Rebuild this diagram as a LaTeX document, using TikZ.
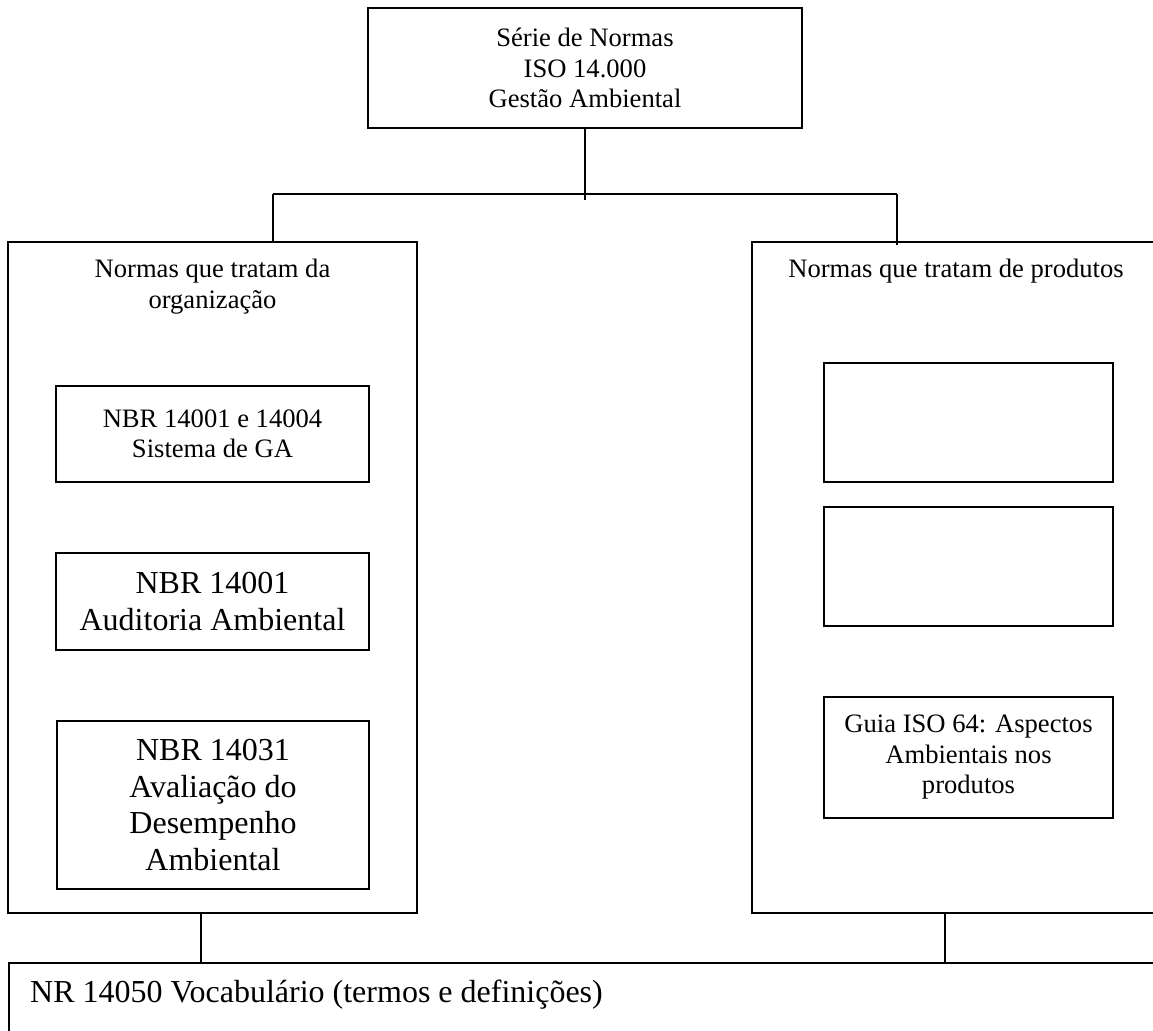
\documentclass[tikz,border=0pt]{standalone}
\usepackage{fontspec}
\setmainfont{Liberation Serif}
\newcommand\txtS{\fontsize{26.6}{30.5}\selectfont}
\newcommand\txtL{\fontsize{32}{36.5}\selectfont}
\begin{document}
\begin{tikzpicture}[x=1pt,y=-1pt,
  panel/.style={draw, line width=1.8pt, inner sep=0pt, align=center},
  wire/.style={line width=1.8pt},
  caption/.style={inner sep=0pt, align=center}]
\path[use as bounding box, clip] (0,0) rectangle (1153,1030);

% root of the hierarchy
\node[panel, minimum width=434pt, minimum height=120pt, font=\txtS] (top) at (585,68)
  {Série de Normas\\ISO 14.000\\Gestão Ambiental};

% the two groups of standards
\node[panel, minimum width=409pt, minimum height=671pt] (org) at (212.5,577.5) {};
\node[panel, minimum width=409pt, minimum height=671pt] (prod) at (956.5,577.5) {};
\node[caption, font=\txtS, anchor=north] (orgtitle) at (212.5,259)
  {Normas que tratam da\\organização};
\node[caption, font=\txtS, anchor=base] (prodtitle) at (956,277)
  {Normas que tratam de produtos};

% standards about the organization
\node[panel, minimum width=313pt, minimum height=96pt, font=\txtS] (ga) at (212.5,434)
  {NBR 14001 e 14004\\Sistema de GA};
\node[panel, minimum width=313pt, minimum height=97pt, font=\txtL] (aud) at (212.5,601.5)
  {NBR 14001\\Auditoria Ambiental};
\node[panel, minimum width=312pt, minimum height=168pt, font=\txtL] (desemp) at (213,805)
  {NBR 14031\\Avaliação do\\Desempenho\\Ambiental};

% standards about products
\node[panel, minimum width=289pt, minimum height=119pt] (e1) at (968.5,422.5) {};
\node[panel, minimum width=289pt, minimum height=119pt] (e2) at (968.5,566.5) {};
\node[panel, minimum width=289pt, minimum height=121pt, font=\txtS] (guia) at (968.5,757.5)
  {Guia ISO 64: Aspectos\\Ambientais nos\\produtos};

% vocabulary standard shared by both groups
\node[panel, minimum width=1157pt, minimum height=90pt, anchor=north west] (vocab) at (8,962) {};
\node[caption, font=\txtL, anchor=base west] (vocabtext) at (30,1002)
  {NR 14050 Vocabulário (termos e definições)};

% connectors
\coordinate (bl) at (273,194);
\coordinate (br) at (897,194);
\draw[wire] (top.south) -- ([yshift=-6pt]top.south |- bl);
\draw[wire] (bl) -- (br);
\draw[wire] (bl) -- (bl |- org.north);
\draw[wire] (br) -- ([yshift=-4pt]br |- prod.north);
\coordinate (dl) at (201,0);
\coordinate (dr) at (945,0);
\draw[wire] (dl |- org.south) -- (dl |- vocab.north);
\draw[wire] (dr |- prod.south) -- (dr |- vocab.north);
\end{tikzpicture}
\end{document}
